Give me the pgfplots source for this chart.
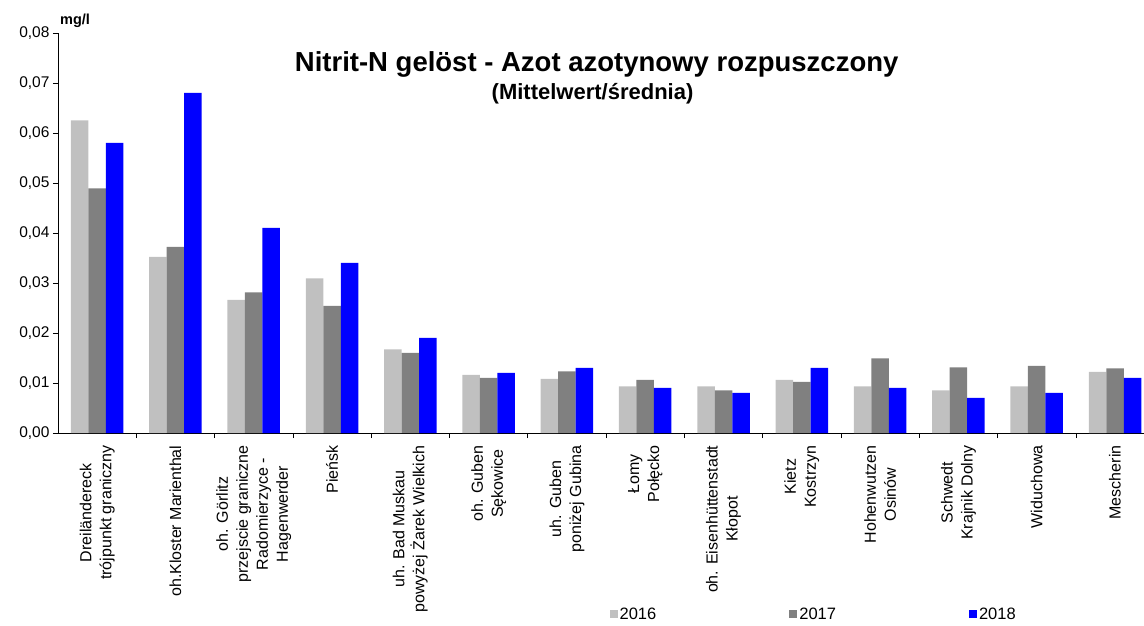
\documentclass[border=0pt]{standalone}
\usepackage{pgfplots}
\pgfplotsset{compat=1.18}
\usepackage{pgfplotstable}
\usepackage{fontspec}
\setmainfont{Liberation Sans}
\pgfplotstableread{
x y2016 y2017 y2018
0 0.0625 0.0489 0.058
1 0.0352 0.0372 0.068
2 0.0266 0.0281 0.041
3 0.0309 0.0254 0.034
4 0.0167 0.0160 0.019
5 0.0116 0.0110 0.012
6 0.0108 0.0123 0.013
7 0.0093 0.0106 0.009
8 0.0093 0.0085 0.008
9 0.0106 0.0102 0.013
10 0.0093 0.0149 0.009
11 0.0085 0.0131 0.007
12 0.0093 0.0134 0.008
13 0.0122 0.0129 0.011
}\datatable
\definecolor{c2016}{HTML}{C0C0C0}
\definecolor{c2017}{HTML}{808080}
\definecolor{c2018}{HTML}{0000FF}
\begin{document}
\begin{tikzpicture}
\useasboundingbox (-58pt,-193pt) rectangle (1086pt,433pt);
\begin{axis}[
  name=ax,
  clip=false,
  scale only axis,
  width=1086pt, height=400pt,
  xmin=-0.5, xmax=13.37,
  ymin=0, ymax=0.08,
  axis x line*=bottom,
  axis y line*=left,
  axis line style={-, line width=0.8pt},
  ybar=0pt,
  bar width=17.5pt,
  xtick={0,...,13},
  major x tick style={draw=none},
  minor xtick={0.5,1.5,...,12.5},
  minor tick length=5pt,
  minor x tick style={line width=0.6pt, black},
  tick align=outside,
  ytick={0,0.01,...,0.08},
  major tick length=5pt,
  major y tick style={line width=0.6pt, black},
  scaled y ticks=false,
  /pgf/number format/fixed,
  /pgf/number format/fixed zerofill,
  /pgf/number format/precision=2,
  /pgf/number format/use comma,
  /pgf/number format/assume math mode=true,
  yticklabel style={font=\fontsize{15.5}{18}\selectfont},
  xticklabels={
    {Dreiländereck\\trójpunkt graniczny},
    {oh.Kloster Marienthal},
    {oh. Görlitz\\przejscie graniczne\\Radomierzyce -\\Hagenwerder},
    {Pieńsk},
    {uh. Bad Muskau\\powyżej Żarek Wielkich},
    {oh. Guben\\Sękowice},
    {uh. Guben\\poniżej Gubina},
    {Łomy\\Połęcko},
    {oh. Eisenhüttenstadt\\Kłopot},
    {Kietz\\Kostrzyn},
    {Hohenwutzen\\Osinów},
    {Schwedt\\Krajnik Dolny},
    {Widuchowa},
    {Mescherin}},
  xticklabel style={rotate=90, anchor=east, align=center, font=\fontsize{16}{20}\selectfont, xshift=-4pt},
  legend columns=3,
  legend style={draw=none, at={(0.505,-0.4525)}, anchor=west, font=\fontsize{16.5}{18}\selectfont,
    /tikz/every even column/.append style={column sep=131pt}},
  legend image code/.code={\fill[#1,draw=none] (0pt,-4pt) rectangle (8pt,4pt);},
  legend cell align=left,
]
\addplot[fill=c2016, draw=none] table[x=x, y=y2016] {\datatable};
\addplot[fill=c2017, draw=none] table[x=x, y=y2017] {\datatable};
\addplot[fill=c2018, draw=none] table[x=x, y=y2018] {\datatable};
\legend{2016,2017,2018}
\node[anchor=base, font=\bfseries\fontsize{27.5}{30}\selectfont, inner sep=0pt] at (rel axis cs:0.496,0.9025) {Nitrit-N gelöst - Azot azotynowy rozpuszczony};
\node[anchor=base, font=\bfseries\fontsize{22}{26}\selectfont, inner sep=0pt] at (rel axis cs:0.4922,0.8325) {(Mittelwert/średnia)};
\end{axis}
\node[anchor=base west, font=\bfseries\fontsize{14.5}{16}\selectfont, inner sep=0pt] at ([xshift=2pt, yshift=8pt]ax.north west) {mg/l};
\end{tikzpicture}
\end{document}
